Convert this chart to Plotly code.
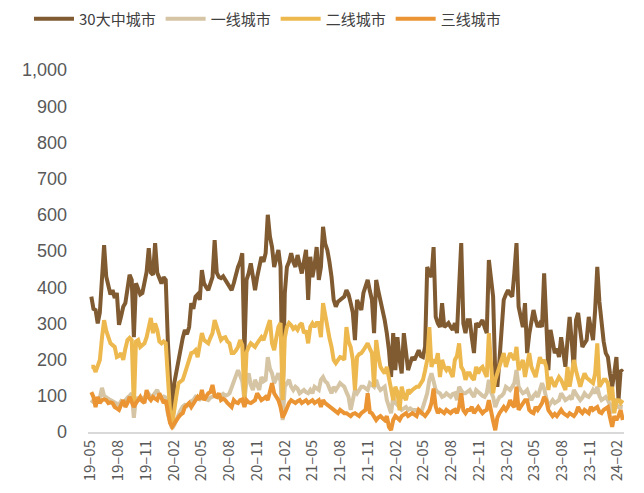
import pandas as pd
import plotly.graph_objects as go

# Weekly series, first week ending 2019-05-05
weeks = pd.date_range("2019-05-05", periods=251, freq="7D")

city30 = [
    374, 340, 337, 300, 330, 420, 516, 430, 400, 380,
    392, 370, 384, 296, 320, 346, 356, 390, 434, 420,
    262, 411, 392, 380, 384, 410, 442, 508, 440, 434,
    522, 440, 428, 410, 428, 420, 250, 120, 33, 135,
    170, 200, 226, 260, 282, 270, 290, 356, 340, 374,
    380, 365, 447, 411, 400, 392, 410, 428, 530, 440,
    428, 425, 430, 420, 410, 400, 392, 411, 440, 456,
    470, 494, 218, 420, 438, 466, 430, 392, 428, 460,
    484, 470, 494, 600, 540, 511, 456, 480, 503, 456,
    88, 384, 456, 470, 494, 470, 456, 489, 460, 438,
    470, 503, 365, 484, 428, 460, 511, 420, 456, 567,
    520, 503, 470, 428, 365, 346, 360, 365, 370, 374,
    392, 380, 356, 330, 254, 365, 350, 337, 384, 400,
    420, 390, 365, 273, 420, 390, 365, 330, 309, 273,
    226, 152, 273, 171, 262, 200, 162, 273, 220, 171,
    190, 207, 199, 215, 226, 210, 207, 235, 456, 440,
    428, 511, 318, 300, 290, 356, 290, 295, 301, 290,
    282, 301, 273, 400, 522, 300, 273, 309, 309, 260,
    218, 301, 290, 300, 309, 290, 273, 475, 420, 374,
    162, 125, 200, 273, 365, 380, 392, 380, 374, 440,
    522, 346, 320, 290, 356, 218, 270, 309, 337, 310,
    290, 300, 290, 438, 273, 171, 282, 250, 218, 230,
    207, 262, 220, 180, 254, 318, 250, 171, 309, 329,
    280, 235, 245, 254, 318, 280, 254, 337, 456, 360,
    290, 250, 218, 207, 160, 125, 162, 207, 88, 171,
    166,
]

tier1 = [
    80, 88, 90, 88, 95, 122, 100, 95, 90, 88,
    85, 80, 78, 75, 85, 80, 90, 95, 100, 107,
    39, 95, 90, 88, 92, 95, 100, 105, 97, 100,
    110, 116, 100, 95, 98, 95, 50, 25, 10, 20,
    35, 50, 60, 70, 75, 72, 80, 85, 88, 97,
    92, 90, 95, 92, 90, 88, 95, 97, 100, 97,
    95, 100, 105, 100, 102, 107, 125, 144, 155, 171,
    152, 140, 88, 140, 162, 130, 116, 144, 130, 116,
    152, 140, 144, 207, 175, 162, 135, 150, 162, 140,
    33, 125, 135, 144, 125, 116, 125, 120, 107, 112,
    116, 110, 107, 116, 107, 125, 120, 116, 144, 152,
    140, 135, 120, 107, 125, 116, 125, 135, 130, 125,
    110, 97, 61, 90, 116, 107, 115, 125, 125, 120,
    116, 135, 130, 125, 144, 125, 116, 120, 125, 88,
    69, 52, 97, 80, 75, 69, 61, 65, 69, 61,
    65, 61, 61, 61, 55, 52, 69, 85, 107, 144,
    162, 140, 116, 110, 107, 97, 100, 107, 100, 97,
    105, 107, 88, 125, 115, 107, 107, 112, 116, 105,
    97, 116, 110, 107, 100, 97, 107, 144, 110, 97,
    69, 85, 97, 100, 107, 125, 120, 116, 125, 135,
    171, 125, 115, 107, 110, 116, 100, 88, 100, 107,
    97, 116, 135, 120, 97, 69, 80, 88, 80, 85,
    88, 107, 95, 88, 92, 97, 90, 116, 105, 97,
    88, 95, 107, 100, 97, 105, 116, 107, 125, 100,
    88, 92, 97, 88, 75, 52, 88, 75, 69, 70,
    69,
]

tier2 = [
    180, 180, 166, 185, 199, 260, 309, 280, 262, 245,
    240, 235, 207, 210, 218, 199, 230, 254, 260, 254,
    70, 250, 254, 235, 240, 245, 262, 290, 315, 273,
    300, 282, 250, 245, 250, 245, 125, 60, 20, 69,
    100, 135, 140, 144, 162, 180, 199, 218, 220, 226,
    207, 240, 273, 254, 250, 245, 260, 273, 309, 290,
    273, 254, 260, 262, 250, 245, 218, 218, 225, 235,
    254, 240, 88, 220, 235, 245, 240, 235, 245, 255,
    262, 254, 270, 290, 309, 245, 226, 260, 290, 301,
    88, 260, 290, 301, 295, 285, 290, 282, 295, 301,
    273, 280, 245, 290, 300, 290, 301, 301, 262, 356,
    320, 290, 260, 235, 199, 190, 200, 207, 205, 199,
    290, 250, 235, 200, 116, 207, 215, 218, 226, 235,
    245, 230, 218, 125, 254, 210, 180, 170, 162, 180,
    144, 125, 88, 125, 110, 60, 125, 100, 88, 116,
    110, 116, 120, 125, 125, 135, 144, 170, 199, 290,
    180, 200, 190, 218, 152, 199, 180, 171, 180, 165,
    152, 199, 210, 245, 180, 170, 144, 162, 162, 150,
    144, 180, 162, 175, 180, 165, 152, 273, 180, 107,
    144, 160, 180, 200, 218, 180, 200, 218, 210, 199,
    235, 171, 185, 199, 152, 190, 218, 180, 165, 152,
    180, 207, 190, 199, 180, 116, 152, 140, 125, 140,
    152, 144, 130, 116, 180, 125, 160, 199, 170, 144,
    125, 145, 162, 150, 144, 140, 135, 162, 245, 125,
    135, 144, 144, 135, 88, 125, 52, 88, 88, 80,
    88,
]

tier3 = [
    110, 97, 69, 97, 80, 88, 90, 88, 80, 82,
    80, 69, 65, 61, 75, 88, 69, 80, 97, 85,
    69, 80, 88, 97, 85, 80, 116, 95, 88, 97,
    92, 88, 107, 95, 80, 88, 52, 25, 14, 24,
    35, 41, 48, 52, 69, 75, 80, 69, 80, 88,
    97, 90, 116, 88, 100, 107, 110, 130, 100, 97,
    107, 88, 92, 88, 80, 75, 69, 88, 82, 80,
    88, 90, 69, 88, 82, 80, 85, 88, 107, 95,
    88, 92, 97, 88, 110, 135, 107, 95, 88, 69,
    40, 52, 69, 80, 88, 85, 80, 85, 88, 80,
    85, 88, 80, 85, 88, 80, 85, 88, 69, 88,
    80, 75, 69, 65, 61, 55, 52, 61, 55, 52,
    52, 48, 44, 50, 52, 48, 44, 52, 58, 61,
    107, 55, 52, 44, 33, 40, 44, 38, 33, 44,
    14, 5, 33, 44, 38, 33, 44, 48, 52, 44,
    48, 52, 48, 44, 61, 55, 52, 44, 52, 61,
    80, 120, 70, 52, 61, 58, 52, 61, 55, 52,
    58, 61, 52, 70, 107, 60, 52, 61, 61, 69,
    52, 61, 69, 60, 52, 58, 61, 88, 52, 30,
    5, 40, 52, 60, 69, 61, 70, 88, 75, 69,
    125, 61, 70, 80, 88, 88, 61, 55, 52, 69,
    61, 70, 80, 97, 88, 60, 52, 44, 50, 44,
    52, 61, 52, 48, 44, 52, 48, 44, 52, 69,
    58, 52, 61, 55, 52, 69, 61, 65, 69, 55,
    52, 61, 65, 69, 40, 14, 44, 33, 44, 61,
    33,
]

series_names = ["30大中城市", "一线城市", "二线城市", "三线城市"]
series_values = [city30, tier1, tier2, tier3]
series_colors = ["#805A31", "#D6C5A5", "#EDB84E", "#EA9434"]

tick_dates = pd.date_range("2019-05-01", "2024-02-01", freq="3MS")
tick_text = [d.strftime("%y") + "–" + d.strftime("%m") for d in tick_dates]

fig = go.Figure()
for name, vals, color in zip(series_names, series_values, series_colors):
    fig.add_trace(go.Scatter(
        x=weeks, y=vals, mode="lines", name=name,
        line=dict(color=color, width=4, shape="linear"),
    ))

font_family = "Noto Sans CJK SC, Liberation Sans, sans-serif"

fig.update_layout(
    width=644, height=493,
    paper_bgcolor="white", plot_bgcolor="white",
    margin=dict(l=88, r=20, t=70, b=61),
    font=dict(family=font_family, size=15, color="#595959"),
    showlegend=True,
    legend=dict(
        orientation="h", xref="container", yref="container",
        x=0.045, y=0.995, xanchor="left", yanchor="top",
        font=dict(size=15, color="#404040"),
        bgcolor="rgba(0,0,0,0)", itemwidth=40,
        entrywidth=0, tracegroupgap=0,
    ),
    xaxis=dict(
        type="date",
        range=["2019-04-24", "2024-02-22"],
        tickvals=list(tick_dates), ticktext=tick_text,
        tickangle=-90, showgrid=False, zeroline=False,
        showline=True, linecolor="#D9D9D9", linewidth=2,
        ticks="", tickfont=dict(size=15, color="#595959"),
    ),
    yaxis=dict(
        range=[0, 1000], dtick=100, tickformat=",d",
        showgrid=False, zeroline=False, showline=False,
        ticks="", ticklabelstandoff=20,
        tickfont=dict(family="Liberation Sans, sans-serif", size=18, color="#595959"),
    ),
)

fig.write_html("out.html")
